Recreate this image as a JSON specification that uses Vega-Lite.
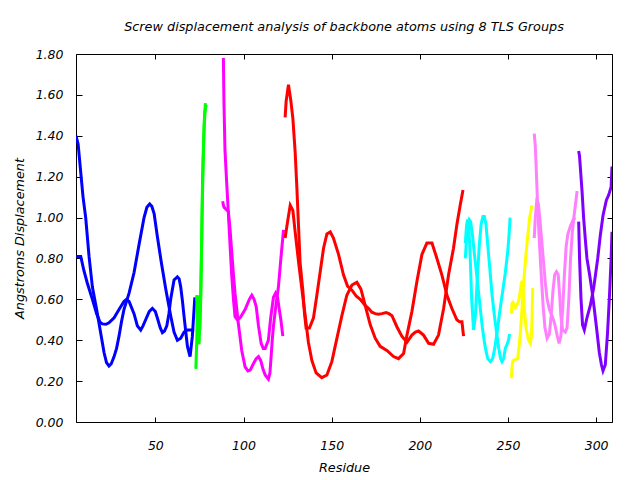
{
  "$schema": "https://vega.github.io/schema/vega-lite/v6.json",
  "width": 536,
  "height": 368,
  "autosize": {"type": "none"},
  "padding": {"left": 76, "top": 54, "right": 28, "bottom": 58},
  "background": "white",
  "title": {"text": "Screw displacement analysis of backbone atoms using 8 TLS Groups", "fontStyle": "italic", "fontWeight": "normal", "fontSize": 12.8, "font": "DejaVu Sans", "color": "black", "anchor": "middle", "frame": "group", "offset": 14},
  "config": {
    "font": "DejaVu Sans",
    "view": {"stroke": "black", "strokeWidth": 1},
    "axis": {"grid": false, "domain": false, "tickColor": "black", "labelColor": "black", "titleColor": "black", "labelFontStyle": "italic", "titleFontStyle": "italic", "titleFontWeight": "normal", "labelFontSize": 12.5, "titleFontSize": 12.8, "labelFont": "DejaVu Sans", "titleFont": "DejaVu Sans"}
  },
  "data": {"values": [
    {"g":"1","s":"1a","x":5,"y":1.40},{"g":"1","s":"1a","x":6.2,"y":1.36},{"g":"1","s":"1a","x":7.7,"y":1.22},{"g":"1","s":"1a","x":9,"y":1.10},{"g":"1","s":"1a","x":10.5,"y":1.00},{"g":"1","s":"1a","x":12.4,"y":0.81},{"g":"1","s":"1a","x":14.3,"y":0.66},{"g":"1","s":"1a","x":16.7,"y":0.55},{"g":"1","s":"1a","x":19,"y":0.435},{"g":"1","s":"1a","x":20.9,"y":0.34},{"g":"1","s":"1a","x":22.3,"y":0.29},{"g":"1","s":"1a","x":23.7,"y":0.274},{"g":"1","s":"1a","x":25,"y":0.285},{"g":"1","s":"1a","x":26.6,"y":0.32},{"g":"1","s":"1a","x":28,"y":0.36},{"g":"1","s":"1a","x":29.4,"y":0.42},{"g":"1","s":"1a","x":30.8,"y":0.49},{"g":"1","s":"1a","x":32.2,"y":0.55},{"g":"1","s":"1a","x":35.1,"y":0.63},{"g":"1","s":"1a","x":37.9,"y":0.73},{"g":"1","s":"1a","x":40.8,"y":0.87},{"g":"1","s":"1a","x":43.6,"y":1.00},{"g":"1","s":"1a","x":45.2,"y":1.05},{"g":"1","s":"1a","x":46.8,"y":1.066},{"g":"1","s":"1a","x":48,"y":1.055},{"g":"1","s":"1a","x":49.3,"y":1.02},{"g":"1","s":"1a","x":51.1,"y":0.91},{"g":"1","s":"1a","x":53.4,"y":0.78},{"g":"1","s":"1a","x":55.9,"y":0.65},{"g":"1","s":"1a","x":58.7,"y":0.52},{"g":"1","s":"1a","x":60.6,"y":0.44},{"g":"1","s":"1a","x":62.5,"y":0.40},{"g":"1","s":"1a","x":64.4,"y":0.41},{"g":"1","s":"1a","x":66.3,"y":0.44},{"g":"1","s":"1a","x":68.2,"y":0.45},{"g":"1","s":"1a","x":70,"y":0.45},{"g":"1","s":"1a","x":72,"y":0.45},
    {"g":"1","s":"1b","x":5,"y":0.81},{"g":"1","s":"1b","x":7.7,"y":0.81},{"g":"1","s":"1b","x":9.5,"y":0.74},{"g":"1","s":"1b","x":11.4,"y":0.68},{"g":"1","s":"1b","x":14.3,"y":0.60},{"g":"1","s":"1b","x":16.7,"y":0.53},{"g":"1","s":"1b","x":18.5,"y":0.49},{"g":"1","s":"1b","x":19.9,"y":0.48},{"g":"1","s":"1b","x":22,"y":0.478},{"g":"1","s":"1b","x":23.7,"y":0.485},{"g":"1","s":"1b","x":26.6,"y":0.51},{"g":"1","s":"1b","x":29.4,"y":0.55},{"g":"1","s":"1b","x":32.2,"y":0.59},{"g":"1","s":"1b","x":33.6,"y":0.60},{"g":"1","s":"1b","x":35.1,"y":0.59},{"g":"1","s":"1b","x":37.9,"y":0.53},{"g":"1","s":"1b","x":39.8,"y":0.47},{"g":"1","s":"1b","x":41.7,"y":0.45},{"g":"1","s":"1b","x":43,"y":0.47},{"g":"1","s":"1b","x":44.5,"y":0.50},{"g":"1","s":"1b","x":46.5,"y":0.54},{"g":"1","s":"1b","x":48.3,"y":0.556},{"g":"1","s":"1b","x":50,"y":0.54},{"g":"1","s":"1b","x":51.1,"y":0.51},{"g":"1","s":"1b","x":52.8,"y":0.46},{"g":"1","s":"1b","x":54,"y":0.437},{"g":"1","s":"1b","x":55.2,"y":0.445},{"g":"1","s":"1b","x":56.5,"y":0.47},{"g":"1","s":"1b","x":57.7,"y":0.53},{"g":"1","s":"1b","x":58.7,"y":0.60},{"g":"1","s":"1b","x":60.6,"y":0.695},{"g":"1","s":"1b","x":62.5,"y":0.71},{"g":"1","s":"1b","x":63.5,"y":0.70},{"g":"1","s":"1b","x":64.4,"y":0.66},{"g":"1","s":"1b","x":65.4,"y":0.59},{"g":"1","s":"1b","x":66.3,"y":0.515},{"g":"1","s":"1b","x":68.2,"y":0.37},{"g":"1","s":"1b","x":69.7,"y":0.32},{"g":"1","s":"1b","x":71,"y":0.42},{"g":"1","s":"1b","x":72.4,"y":0.61},
    {"g":"2","s":"2a","x":73,"y":0.26},{"g":"2","s":"2a","x":73.5,"y":0.40},{"g":"2","s":"2a","x":74,"y":0.62},{"g":"2","s":"2a","x":74.6,"y":0.50},{"g":"2","s":"2a","x":75.2,"y":0.45},{"g":"2","s":"2a","x":75.8,"y":0.62},{"g":"2","s":"2a","x":76.3,"y":0.90},{"g":"2","s":"2a","x":76.8,"y":1.20},{"g":"2","s":"2a","x":77.4,"y":1.38},{"g":"2","s":"2a","x":77.9,"y":1.50},{"g":"2","s":"2a","x":78.4,"y":1.56},
    {"g":"2","s":"2b","x":73.4,"y":0.62},{"g":"2","s":"2b","x":74.1,"y":0.45},{"g":"2","s":"2b","x":74.8,"y":0.38},{"g":"2","s":"2b","x":75.5,"y":0.55},{"g":"2","s":"2b","x":76.1,"y":0.80},{"g":"2","s":"2b","x":76.6,"y":1.05},{"g":"2","s":"2b","x":77.2,"y":1.30},{"g":"2","s":"2b","x":77.7,"y":1.45},{"g":"2","s":"2b","x":78.2,"y":1.52},{"g":"2","s":"2b","x":78.8,"y":1.55},
    {"g":"3","s":"3a","x":88.6,"y":1.78},{"g":"3","s":"3a","x":88.9,"y":1.57},{"g":"3","s":"3a","x":89.5,"y":1.33},{"g":"3","s":"3a","x":90.4,"y":1.18},{"g":"3","s":"3a","x":91.3,"y":1.04},{"g":"3","s":"3a","x":92.4,"y":0.86},{"g":"3","s":"3a","x":93.3,"y":0.72},{"g":"3","s":"3a","x":94.3,"y":0.60},{"g":"3","s":"3a","x":95.2,"y":0.515},{"g":"3","s":"3a","x":96.5,"y":0.50},{"g":"3","s":"3a","x":98.1,"y":0.51},{"g":"3","s":"3a","x":100.9,"y":0.55},{"g":"3","s":"3a","x":103.3,"y":0.60},{"g":"3","s":"3a","x":104.7,"y":0.62},{"g":"3","s":"3a","x":106,"y":0.60},{"g":"3","s":"3a","x":107.2,"y":0.565},{"g":"3","s":"3a","x":108.5,"y":0.47},{"g":"3","s":"3a","x":110,"y":0.385},{"g":"3","s":"3a","x":111.2,"y":0.36},{"g":"3","s":"3a","x":112.3,"y":0.36},{"g":"3","s":"3a","x":113.2,"y":0.38},{"g":"3","s":"3a","x":114.1,"y":0.40},{"g":"3","s":"3a","x":115.5,"y":0.515},{"g":"3","s":"3a","x":117,"y":0.61},{"g":"3","s":"3a","x":118.2,"y":0.63},{"g":"3","s":"3a","x":119.3,"y":0.61},{"g":"3","s":"3a","x":120.3,"y":0.55},{"g":"3","s":"3a","x":121.2,"y":0.50},{"g":"3","s":"3a","x":122.3,"y":0.42},
    {"g":"3","s":"3b","x":88.2,"y":1.08},{"g":"3","s":"3b","x":88.6,"y":1.06},{"g":"3","s":"3b","x":89,"y":1.05},{"g":"3","s":"3b","x":91.4,"y":1.03},{"g":"3","s":"3b","x":92.4,"y":0.94},{"g":"3","s":"3b","x":93.4,"y":0.825},{"g":"3","s":"3b","x":94.3,"y":0.72},{"g":"3","s":"3b","x":95.2,"y":0.63},{"g":"3","s":"3b","x":97.1,"y":0.48},{"g":"3","s":"3b","x":99,"y":0.35},{"g":"3","s":"3b","x":100.9,"y":0.27},{"g":"3","s":"3b","x":102.5,"y":0.25},{"g":"3","s":"3b","x":103.8,"y":0.254},{"g":"3","s":"3b","x":105.6,"y":0.285},{"g":"3","s":"3b","x":107.2,"y":0.31},{"g":"3","s":"3b","x":108.5,"y":0.32},{"g":"3","s":"3b","x":109.8,"y":0.30},{"g":"3","s":"3b","x":111,"y":0.26},{"g":"3","s":"3b","x":112.3,"y":0.23},{"g":"3","s":"3b","x":114.1,"y":0.21},{"g":"3","s":"3b","x":115,"y":0.24},{"g":"3","s":"3b","x":115.5,"y":0.30},{"g":"3","s":"3b","x":116.3,"y":0.40},{"g":"3","s":"3b","x":117,"y":0.47},{"g":"3","s":"3b","x":118.5,"y":0.58},{"g":"3","s":"3b","x":119.8,"y":0.66},{"g":"3","s":"3b","x":121.2,"y":0.80},{"g":"3","s":"3b","x":122.7,"y":0.94},
    {"g":"4","s":"4a","x":123.6,"y":1.49},{"g":"4","s":"4a","x":124.2,"y":1.57},{"g":"4","s":"4a","x":125.5,"y":1.65},{"g":"4","s":"4a","x":126.8,"y":1.575},{"g":"4","s":"4a","x":128,"y":1.485},{"g":"4","s":"4a","x":129.3,"y":1.32},{"g":"4","s":"4a","x":130.3,"y":1.14},{"g":"4","s":"4a","x":131.2,"y":0.96},{"g":"4","s":"4a","x":132.1,"y":0.78},{"g":"4","s":"4a","x":133.7,"y":0.64},{"g":"4","s":"4a","x":134.6,"y":0.53},{"g":"4","s":"4a","x":135.5,"y":0.46},{"g":"4","s":"4a","x":137.4,"y":0.46},{"g":"4","s":"4a","x":139.7,"y":0.51},{"g":"4","s":"4a","x":141.6,"y":0.62},{"g":"4","s":"4a","x":143.5,"y":0.735},{"g":"4","s":"4a","x":145.4,"y":0.85},{"g":"4","s":"4a","x":147.3,"y":0.92},{"g":"4","s":"4a","x":149.2,"y":0.93},{"g":"4","s":"4a","x":151,"y":0.90},{"g":"4","s":"4a","x":153.9,"y":0.82},{"g":"4","s":"4a","x":156.7,"y":0.72},{"g":"4","s":"4a","x":159,"y":0.665},{"g":"4","s":"4a","x":161.5,"y":0.645},{"g":"4","s":"4a","x":164,"y":0.615},{"g":"4","s":"4a","x":166.2,"y":0.60},{"g":"4","s":"4a","x":169,"y":0.57},{"g":"4","s":"4a","x":171,"y":0.555},{"g":"4","s":"4a","x":172.8,"y":0.537},{"g":"4","s":"4a","x":174.7,"y":0.53},{"g":"4","s":"4a","x":176.6,"y":0.527},{"g":"4","s":"4a","x":178.5,"y":0.53},{"g":"4","s":"4a","x":180.9,"y":0.535},{"g":"4","s":"4a","x":182.5,"y":0.53},{"g":"4","s":"4a","x":184.2,"y":0.52},{"g":"4","s":"4a","x":187,"y":0.466},{"g":"4","s":"4a","x":189.8,"y":0.42},{"g":"4","s":"4a","x":192.7,"y":0.39},{"g":"4","s":"4a","x":195.5,"y":0.425},{"g":"4","s":"4a","x":197.5,"y":0.44},{"g":"4","s":"4a","x":199.3,"y":0.445},{"g":"4","s":"4a","x":202.1,"y":0.425},{"g":"4","s":"4a","x":205,"y":0.385},{"g":"4","s":"4a","x":207.8,"y":0.38},{"g":"4","s":"4a","x":210.6,"y":0.425},{"g":"4","s":"4a","x":213.5,"y":0.555},{"g":"4","s":"4a","x":216.3,"y":0.72},{"g":"4","s":"4a","x":219.1,"y":0.85},{"g":"4","s":"4a","x":221,"y":0.965},{"g":"4","s":"4a","x":222.9,"y":1.06},{"g":"4","s":"4a","x":224.5,"y":1.135},
    {"g":"4","s":"4b","x":123.6,"y":0.90},{"g":"4","s":"4b","x":125,"y":0.98},{"g":"4","s":"4b","x":126.5,"y":1.06},{"g":"4","s":"4b","x":128,"y":1.035},{"g":"4","s":"4b","x":129.3,"y":0.93},{"g":"4","s":"4b","x":131.2,"y":0.785},{"g":"4","s":"4b","x":133.1,"y":0.65},{"g":"4","s":"4b","x":135,"y":0.52},{"g":"4","s":"4b","x":136.8,"y":0.39},{"g":"4","s":"4b","x":138.8,"y":0.30},{"g":"4","s":"4b","x":141.2,"y":0.24},{"g":"4","s":"4b","x":144.4,"y":0.217},{"g":"4","s":"4b","x":147.3,"y":0.23},{"g":"4","s":"4b","x":150.1,"y":0.295},{"g":"4","s":"4b","x":153,"y":0.41},{"g":"4","s":"4b","x":155.8,"y":0.52},{"g":"4","s":"4b","x":158.6,"y":0.62},{"g":"4","s":"4b","x":161.5,"y":0.67},{"g":"4","s":"4b","x":164.3,"y":0.683},{"g":"4","s":"4b","x":166.6,"y":0.65},{"g":"4","s":"4b","x":169,"y":0.57},{"g":"4","s":"4b","x":171.9,"y":0.475},{"g":"4","s":"4b","x":174.7,"y":0.41},{"g":"4","s":"4b","x":177.5,"y":0.37},{"g":"4","s":"4b","x":181.3,"y":0.35},{"g":"4","s":"4b","x":185.1,"y":0.32},{"g":"4","s":"4b","x":187.9,"y":0.31},{"g":"4","s":"4b","x":190.8,"y":0.335},{"g":"4","s":"4b","x":192.7,"y":0.425},{"g":"4","s":"4b","x":195.5,"y":0.54},{"g":"4","s":"4b","x":198.4,"y":0.69},{"g":"4","s":"4b","x":201.2,"y":0.82},{"g":"4","s":"4b","x":204,"y":0.875},{"g":"4","s":"4b","x":206.9,"y":0.875},{"g":"4","s":"4b","x":209.7,"y":0.80},{"g":"4","s":"4b","x":212.5,"y":0.72},{"g":"4","s":"4b","x":215.4,"y":0.62},{"g":"4","s":"4b","x":218.2,"y":0.555},{"g":"4","s":"4b","x":221,"y":0.50},{"g":"4","s":"4b","x":222.5,"y":0.49},{"g":"4","s":"4b","x":223.9,"y":0.49},{"g":"4","s":"4b","x":224.8,"y":0.42},
    {"g":"5","s":"5a","x":225.8,"y":0.80},{"g":"5","s":"5a","x":226.5,"y":0.90},{"g":"5","s":"5a","x":227.3,"y":0.97},{"g":"5","s":"5a","x":228,"y":0.99},{"g":"5","s":"5a","x":228.8,"y":0.98},{"g":"5","s":"5a","x":229.8,"y":0.92},{"g":"5","s":"5a","x":231,"y":0.82},{"g":"5","s":"5a","x":232.5,"y":0.70},{"g":"5","s":"5a","x":234,"y":0.58},{"g":"5","s":"5a","x":235.5,"y":0.46},{"g":"5","s":"5a","x":237,"y":0.37},{"g":"5","s":"5a","x":238.5,"y":0.31},{"g":"5","s":"5a","x":240,"y":0.295},{"g":"5","s":"5a","x":241.3,"y":0.31},{"g":"5","s":"5a","x":242.5,"y":0.36},{"g":"5","s":"5a","x":244,"y":0.45},{"g":"5","s":"5a","x":245.5,"y":0.55},{"g":"5","s":"5a","x":247,"y":0.64},{"g":"5","s":"5a","x":248.5,"y":0.73},{"g":"5","s":"5a","x":249.8,"y":0.83},{"g":"5","s":"5a","x":250.5,"y":0.90},{"g":"5","s":"5a","x":251.2,"y":1.00},
    {"g":"5","s":"5b","x":225.8,"y":0.875},{"g":"5","s":"5b","x":226.5,"y":0.96},{"g":"5","s":"5b","x":227.1,"y":0.99},{"g":"5","s":"5b","x":227.8,"y":0.96},{"g":"5","s":"5b","x":228.6,"y":0.80},{"g":"5","s":"5b","x":229.4,"y":0.60},{"g":"5","s":"5b","x":230.5,"y":0.45},{"g":"5","s":"5b","x":231.5,"y":0.52},{"g":"5","s":"5b","x":232.6,"y":0.70},{"g":"5","s":"5b","x":233.7,"y":0.86},{"g":"5","s":"5b","x":234.8,"y":0.97},{"g":"5","s":"5b","x":235.8,"y":1.005},{"g":"5","s":"5b","x":236.6,"y":1.005},{"g":"5","s":"5b","x":237.5,"y":0.97},{"g":"5","s":"5b","x":238.5,"y":0.87},{"g":"5","s":"5b","x":239.8,"y":0.74},{"g":"5","s":"5b","x":241,"y":0.62},{"g":"5","s":"5b","x":242.3,"y":0.52},{"g":"5","s":"5b","x":243.5,"y":0.44},{"g":"5","s":"5b","x":244.8,"y":0.36},{"g":"5","s":"5b","x":245.8,"y":0.31},{"g":"5","s":"5b","x":246.6,"y":0.295},{"g":"5","s":"5b","x":247.5,"y":0.31},{"g":"5","s":"5b","x":248.5,"y":0.36},{"g":"5","s":"5b","x":249.5,"y":0.38},{"g":"5","s":"5b","x":250.3,"y":0.40},{"g":"5","s":"5b","x":250.9,"y":0.43},
    {"g":"6","s":"6a","x":251.9,"y":0.215},{"g":"6","s":"6a","x":252.3,"y":0.27},{"g":"6","s":"6a","x":252.8,"y":0.30},{"g":"6","s":"6a","x":254,"y":0.305},{"g":"6","s":"6a","x":255.5,"y":0.31},{"g":"6","s":"6a","x":256.3,"y":0.37},{"g":"6","s":"6a","x":257,"y":0.435},{"g":"6","s":"6a","x":258,"y":0.56},{"g":"6","s":"6a","x":259.3,"y":0.73},{"g":"6","s":"6a","x":260.8,"y":0.875},{"g":"6","s":"6a","x":262.3,"y":1.0},{"g":"6","s":"6a","x":263.6,"y":1.06},
    {"g":"6","s":"6b","x":251.9,"y":0.53},{"g":"6","s":"6b","x":252.3,"y":0.58},{"g":"6","s":"6b","x":252.8,"y":0.585},{"g":"6","s":"6b","x":254.2,"y":0.56},{"g":"6","s":"6b","x":255.5,"y":0.58},{"g":"6","s":"6b","x":256.3,"y":0.60},{"g":"6","s":"6b","x":257,"y":0.645},{"g":"6","s":"6b","x":257.6,"y":0.68},{"g":"6","s":"6b","x":258.1,"y":0.69},{"g":"6","s":"6b","x":258.9,"y":0.60},{"g":"6","s":"6b","x":259.6,"y":0.52},{"g":"6","s":"6b","x":260.4,"y":0.45},{"g":"6","s":"6b","x":261.7,"y":0.40},{"g":"6","s":"6b","x":262.7,"y":0.385},{"g":"6","s":"6b","x":263.3,"y":0.42},{"g":"6","s":"6b","x":263.7,"y":0.52},{"g":"6","s":"6b","x":264,"y":0.655},
    {"g":"7","s":"7a","x":264.9,"y":1.41},{"g":"7","s":"7a","x":265.5,"y":1.35},{"g":"7","s":"7a","x":266.2,"y":1.20},{"g":"7","s":"7a","x":267,"y":1.02},{"g":"7","s":"7a","x":268,"y":0.85},{"g":"7","s":"7a","x":269,"y":0.70},{"g":"7","s":"7a","x":270,"y":0.56},{"g":"7","s":"7a","x":271,"y":0.46},{"g":"7","s":"7a","x":272.2,"y":0.41},{"g":"7","s":"7a","x":273.5,"y":0.43},{"g":"7","s":"7a","x":274.5,"y":0.52},{"g":"7","s":"7a","x":275.5,"y":0.64},{"g":"7","s":"7a","x":276.5,"y":0.72},{"g":"7","s":"7a","x":277.5,"y":0.735},{"g":"7","s":"7a","x":278.5,"y":0.72},{"g":"7","s":"7a","x":279.3,"y":0.62},{"g":"7","s":"7a","x":280,"y":0.52},{"g":"7","s":"7a","x":281,"y":0.45},{"g":"7","s":"7a","x":282.5,"y":0.44},{"g":"7","s":"7a","x":283.5,"y":0.46},{"g":"7","s":"7a","x":284.5,"y":0.6},{"g":"7","s":"7a","x":285.5,"y":0.80},{"g":"7","s":"7a","x":286.5,"y":0.93},{"g":"7","s":"7a","x":287.5,"y":1.01},{"g":"7","s":"7a","x":288.5,"y":1.08},{"g":"7","s":"7a","x":289.2,"y":1.13},
    {"g":"7","s":"7b","x":264.9,"y":0.90},{"g":"7","s":"7b","x":265.5,"y":1.00},{"g":"7","s":"7b","x":266.3,"y":1.08},{"g":"7","s":"7b","x":267.2,"y":1.07},{"g":"7","s":"7b","x":268.2,"y":0.98},{"g":"7","s":"7b","x":269.2,"y":0.88},{"g":"7","s":"7b","x":270.2,"y":0.78},{"g":"7","s":"7b","x":271.2,"y":0.68},{"g":"7","s":"7b","x":272.2,"y":0.6},{"g":"7","s":"7b","x":273.5,"y":0.55},{"g":"7","s":"7b","x":275,"y":0.52},{"g":"7","s":"7b","x":276.5,"y":0.48},{"g":"7","s":"7b","x":278,"y":0.42},{"g":"7","s":"7b","x":279,"y":0.385},{"g":"7","s":"7b","x":280,"y":0.42},{"g":"7","s":"7b","x":281,"y":0.55},{"g":"7","s":"7b","x":282,"y":0.72},{"g":"7","s":"7b","x":283,"y":0.86},{"g":"7","s":"7b","x":284,"y":0.92},{"g":"7","s":"7b","x":285.5,"y":0.96},{"g":"7","s":"7b","x":287,"y":0.99},{"g":"7","s":"7b","x":288.2,"y":1.0},
    {"g":"8","s":"8a","x":290.1,"y":1.325},{"g":"8","s":"8a","x":290.6,"y":1.30},{"g":"8","s":"8a","x":291,"y":1.25},{"g":"8","s":"8a","x":292,"y":1.13},{"g":"8","s":"8a","x":292.9,"y":1.0},{"g":"8","s":"8a","x":293.9,"y":0.89},{"g":"8","s":"8a","x":294.8,"y":0.80},{"g":"8","s":"8a","x":296.3,"y":0.72},{"g":"8","s":"8a","x":297.7,"y":0.64},{"g":"8","s":"8a","x":299,"y":0.55},{"g":"8","s":"8a","x":300.5,"y":0.44},{"g":"8","s":"8a","x":301.8,"y":0.34},{"g":"8","s":"8a","x":303,"y":0.28},{"g":"8","s":"8a","x":303.9,"y":0.25},{"g":"8","s":"8a","x":305.2,"y":0.28},{"g":"8","s":"8a","x":306.5,"y":0.44},{"g":"8","s":"8a","x":307.7,"y":0.64},{"g":"8","s":"8a","x":308.5,"y":0.80},{"g":"8","s":"8a","x":309,"y":0.93},
    {"g":"8","s":"8b","x":290.1,"y":0.98},{"g":"8","s":"8b","x":290.6,"y":0.80},{"g":"8","s":"8b","x":291.4,"y":0.605},{"g":"8","s":"8b","x":292.3,"y":0.475},{"g":"8","s":"8b","x":293.3,"y":0.45},{"g":"8","s":"8b","x":294.8,"y":0.51},{"g":"8","s":"8b","x":296.7,"y":0.57},{"g":"8","s":"8b","x":298.6,"y":0.655},{"g":"8","s":"8b","x":300.9,"y":0.80},{"g":"8","s":"8b","x":302.4,"y":0.915},{"g":"8","s":"8b","x":303.9,"y":1.01},{"g":"8","s":"8b","x":305.8,"y":1.085},{"g":"8","s":"8b","x":307.1,"y":1.11},{"g":"8","s":"8b","x":308.5,"y":1.15},{"g":"8","s":"8b","x":309,"y":1.25}
  ]},
  "resolve": {"axis": {"x": "independent", "y": "independent"}},
  "layer": [
    {
      "mark": {"type": "line", "strokeWidth": 3, "strokeJoin": "miter", "clip": true},
      "encoding": {
        "x": {"field": "x", "type": "quantitative", "scale": {"domain": [5, 309], "nice": false, "zero": false},
              "axis": {"orient": "bottom", "values": [50, 100, 150, 200, 250, 300], "tickSize": -5, "labelPadding": 22, "title": "Residue", "titlePadding": 10}},
        "y": {"field": "y", "type": "quantitative", "scale": {"domain": [0, 1.8], "nice": false},
              "axis": {"orient": "left", "values": [0, 0.2, 0.4, 0.6, 0.8, 1.0, 1.2, 1.4, 1.6, 1.8], "format": ".2f", "tickSize": -6, "labelPadding": 19, "title": "Angstroms Displacement", "titlePadding": 9}},
        "color": {"field": "g", "type": "nominal", "legend": null,
                  "scale": {"domain": ["1","2","3","4","5","6","7","8"], "range": ["#0000ff","#00ff00","#ff00ff","#ff0000","#00ffff","#ffff00","#ff80ff","#8000ff"]}},
        "detail": {"field": "s", "type": "nominal"}
      }
    },
    {
      "mark": {"type": "point", "opacity": 0},
      "encoding": {
        "x": {"field": "x", "type": "quantitative", "axis": {"orient": "top", "values": [50, 100, 150, 200, 250, 300], "tickSize": -5, "labels": false, "title": null}},
        "y": {"field": "y", "type": "quantitative", "axis": {"orient": "right", "values": [0, 0.2, 0.4, 0.6, 0.8, 1.0, 1.2, 1.4, 1.6, 1.8], "tickSize": -5, "labels": false, "title": null}}
      }
    }
  ]
}
